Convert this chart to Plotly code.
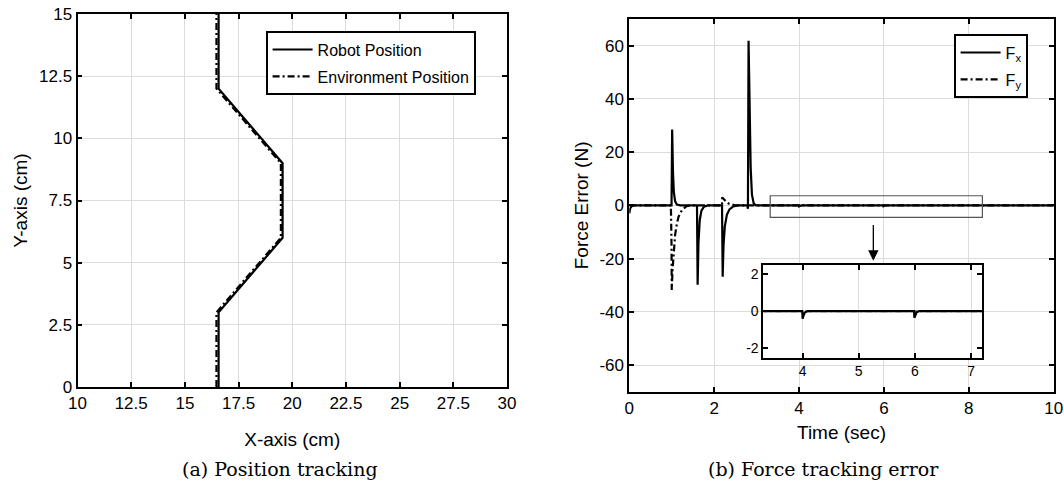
import plotly.graph_objects as go

# ---------------- data ----------------
# (a) position tracking
robot_x = [16.57, 16.57, 19.55, 19.55, 16.57, 16.57]
robot_y = [0, 3, 6, 9, 12, 15]
env_x = [16.47, 16.47, 19.47, 19.47, 16.47, 16.47]
env_y = [0, 3, 6, 9, 12, 15]

pos_xticks = [10, 12.5, 15, 17.5, 20, 22.5, 25, 27.5, 30]
pos_xlabels = ["10", "12.5", "15", "17.5", "20", "22.5", "25", "27.5", "30"]
pos_yticks = [0, 2.5, 5, 7.5, 10, 12.5, 15]
pos_ylabels = ["0", "2.5", "5", "7.5", "10", "12.5", "15"]

# (b) force tracking error
t_fx = [0, 0.02, 0.05, 0.1, 0.995, 1.01, 1.03, 1.05, 1.08, 1.12, 1.2,
        1.595, 1.61, 1.63, 1.66, 1.7, 1.76, 1.85,
        2.185, 2.2, 2.22, 2.25, 2.3, 2.36, 2.45, 2.55,
        2.78, 2.795, 2.81, 2.83, 2.86, 2.89, 2.93, 2.98,
        3.995, 4.0, 4.02, 4.04, 4.08,
        5.985, 5.99, 6.01, 6.03, 6.07, 10]
fx = [-3, -1.2, -0.4, 0, 0, 28.5, 12, 5, 1.5, 0.3, 0,
      0, -29.8, -14, -5.5, -2, -0.5, 0,
      0, -26.8, -15, -8, -3.5, -1.5, -0.4, 0,
      0, -1.3, 61.8, 35, 14, 4, 0.8, 0,
      0, -0.4, -0.2, -0.07, 0,
      0, -0.35, -0.18, -0.06, 0, 0]

t_fy = [0, 0.98, 0.995, 1.0, 1.02, 1.04, 1.08, 1.12, 1.16, 1.24, 1.35, 1.45,
        2.185, 2.19, 2.22, 2.26, 2.3, 2.36, 2.42, 2.5, 10]
fy = [0, 0, -15, -31.8, -24, -19, -11, -7, -4.3, -1.8, -0.3, 0,
      0, 3.0, 2.4, 1.6, 1.0, 0.5, 0.2, 0, 0]

force_xticks = [0, 2, 4, 6, 8, 10]
force_yticks = [-60, -40, -20, 0, 20, 40, 60]
force_ylabels = ["-60", "-40", "-20", "0", "20", "40", "60"]
inset_xticks = [4, 5, 6, 7]
inset_yticks = [-2, 0, 2]
inset_ylabels = ["-2", "0", "2"]

# ---------------- styling ----------------
W, H = 1064, 488
SANS = "Liberation Sans, Arial, Helvetica, sans-serif"
SERIF = "DejaVu Serif, Liberation Serif, serif"
GRID = "#dcdcdc"
DASHDOT = "7px,3px,2px,3px"


def px_x(p):
    return p / W


def px_y(p):
    return 1 - p / H


fig = go.Figure()

# left plot
fig.add_trace(go.Scatter(x=robot_x, y=robot_y, mode="lines", name="Robot Position",
                         line=dict(color="black", width=2.2), xaxis="x", yaxis="y",
                         legend="legend", legendgroup="r"))
fig.add_trace(go.Scatter(x=env_x, y=env_y, mode="lines", name="Environment Position",
                         line=dict(color="black", width=2.2, dash=DASHDOT), xaxis="x", yaxis="y",
                         legend="legend", legendgroup="e"))

# right plot
fig.add_trace(go.Scatter(x=t_fx, y=fx, mode="lines", name="F<sub>x</sub>",
                         line=dict(color="black", width=2.2), xaxis="x2", yaxis="y2",
                         legend="legend2", legendgroup="fx"))
fig.add_trace(go.Scatter(x=t_fy, y=fy, mode="lines", name="F<sub>y</sub>",
                         line=dict(color="black", width=2.2, dash=DASHDOT), xaxis="x2", yaxis="y2",
                         legend="legend2", legendgroup="fy"))

# inset (draw Fy first so Fx solid sits on top)
fig.add_trace(go.Scatter(x=t_fy, y=fy, mode="lines", showlegend=False,
                         line=dict(color="#666666", width=2, dash=DASHDOT), xaxis="x3", yaxis="y3"))
fig.add_trace(go.Scatter(x=t_fx, y=fx, mode="lines", showlegend=False,
                         line=dict(color="black", width=2.2), xaxis="x3", yaxis="y3"))

axis_common = dict(showline=True, linecolor="black", linewidth=1.8, mirror="ticks",
                   ticks="inside", ticklen=5, tickwidth=1.6, tickcolor="black",
                   showgrid=True, gridcolor=GRID, gridwidth=1.2, zeroline=False,
                   tickfont=dict(family=SANS, size=17, color="black"),
                   automargin=False)

fig.update_layout(
    width=W, height=H,
    margin=dict(l=0, r=0, t=0, b=0),
    paper_bgcolor="white", plot_bgcolor="white",
    font=dict(family=SANS, color="black"),
    xaxis=dict(axis_common, domain=[px_x(77.5), px_x(507)], range=[10, 30],
               tickmode="array", tickvals=pos_xticks, ticktext=pos_xlabels,
               title=dict(text="X-axis (cm)", font=dict(family=SANS, size=19), standoff=20),
               anchor="y"),
    yaxis=dict(axis_common, domain=[px_y(387), px_y(14)], range=[0, 15],
               tickmode="array", tickvals=pos_yticks, ticktext=pos_ylabels,
               title=dict(text="Y-axis (cm)", font=dict(family=SANS, size=19), standoff=6),
               anchor="x"),
    xaxis2=dict(axis_common, domain=[px_x(629.3), px_x(1053.7)], range=[0, 10],
                tickmode="array", tickvals=force_xticks,
                title=dict(text="Time (sec)", font=dict(family=SANS, size=19), standoff=9),
                anchor="y2"),
    yaxis2=dict(axis_common, domain=[px_y(391.7), px_y(19)], range=[-70, 70],
                tickmode="array", tickvals=force_yticks, ticktext=force_ylabels,
                title=dict(text="Force Error (N)", font=dict(family=SANS, size=19), standoff=6),
                anchor="x2"),
    xaxis3=dict(axis_common, domain=[px_x(763.3), px_x(982.3)], range=[3.3, 7.2],
                tickmode="array", tickvals=inset_xticks,
                tickfont=dict(family=SANS, size=14, color="black"),
                anchor="y3"),
    yaxis3=dict(axis_common, domain=[px_y(357.7), px_y(264.7)], range=[-2.5, 2.5],
                tickmode="array", tickvals=inset_yticks, ticktext=inset_ylabels, showgrid=False,
                tickfont=dict(family=SANS, size=14, color="black"),
                anchor="x3"),
    legend=dict(x=px_x(266), y=px_y(31), xanchor="left", yanchor="top",
                bgcolor="white", bordercolor="black", borderwidth=1.6,
                font=dict(family=SANS, size=16, color="black"),
                tracegroupgap=3, itemwidth=40),
    legend2=dict(x=px_x(954), y=px_y(34), xanchor="left", yanchor="top",
                 bgcolor="white", bordercolor="black", borderwidth=1.6,
                 font=dict(family=SANS, size=16, color="black"),
                 tracegroupgap=3, itemwidth=40),
    showlegend=True,
)

# white background for the inset (covers main plot grid/lines)
fig.add_shape(type="rect", xref="x3", yref="y3", x0=3.3, x1=7.2, y0=-2.5, y1=2.5,
              fillcolor="white", line=dict(width=0), layer="below")
# zoom region rectangle on main plot
fig.add_shape(type="rect", xref="x2", yref="y2", x0=3.32, x1=8.32, y0=-4.5, y1=3.6,
              line=dict(color="#555555", width=1.2), fillcolor="rgba(0,0,0,0)", layer="above")

# arrow pointing to inset
fig.add_annotation(x=5.75, y=-20.8, ax=5.75, ay=-6.8, xref="x2", yref="y2",
                   axref="x2", ayref="y2", showarrow=True, arrowhead=2, arrowsize=1.6,
                   arrowwidth=1.3, arrowcolor="black", text="")

# captions
fig.add_annotation(x=px_x(280), y=px_y(469), xref="paper", yref="paper", showarrow=False,
                   text="(a) Position tracking", font=dict(family=SERIF, size=19, color="black"),
                   xanchor="center", yanchor="middle")
fig.add_annotation(x=px_x(823), y=px_y(469), xref="paper", yref="paper", showarrow=False,
                   text="(b) Force tracking error", font=dict(family=SERIF, size=19, color="black"),
                   xanchor="center", yanchor="middle")

fig.write_html("out.html",
               config={"displayModeBar": False},
               post_script="document.body.style.margin='0';document.body.style.overflow='hidden';")
